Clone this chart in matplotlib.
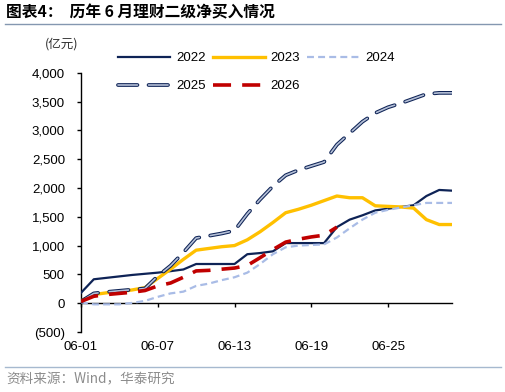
import matplotlib
matplotlib.use("Agg")
import matplotlib.pyplot as plt
from matplotlib.ticker import FuncFormatter, FixedLocator
from matplotlib.lines import Line2D

plt.rcParams['font.family'] = ['Liberation Sans', 'Noto Sans CJK SC', 'DejaVu Sans']
plt.rcParams['lines.scale_dashes'] = False

dates = ["06-01", "06-02", "06-03", "06-04", "06-05", "06-06", "06-07", "06-08", "06-09", "06-10",
         "06-11", "06-12", "06-13", "06-14", "06-15", "06-16", "06-17", "06-18", "06-19", "06-20",
         "06-21", "06-22", "06-23", "06-24", "06-25", "06-26", "06-27", "06-28", "06-29", "06-30"]

y2022 = [180, 415, 440, 465, 490, 510, 530, 556, 585, 680, 680, 680, 680, 850, 870, 900, 1043, 1043,
         1043, 1043, 1320, 1450, 1525, 1610, 1640, 1670, 1700, 1860, 1965, 1953]
y2023 = [40, 150, 180, 200, 230, 270, 430, 590, 760, 920, 950, 980, 1000, 1100, 1240, 1400, 1570, 1630,
         1700, 1780, 1860, 1830, 1830, 1690, 1680, 1670, 1650, 1450, 1365, 1365]
y2024 = [15, -20, -20, -20, 5, 40, 110, 170, 200, 300, 340, 400, 450, 530, 680, 850, 970, 1000,
         1010, 1020, 1140, 1300, 1450, 1570, 1620, 1660, 1700, 1740, 1740, 1740]
y2025 = [30, 170, 195, 215, 235, 255, 470, 650, 880, 1130, 1170, 1210, 1260, 1550, 1800, 2030, 2220, 2310,
         2380, 2450, 2750, 2950, 3150, 3300, 3400, 3470, 3550, 3630, 3650, 3650]
y2026 = [30, 120, 150, 170, 190, 220, 300, 350, 450, 560, 570, 590, 610, 655, 790, 930, 1060, 1110,
         1150, 1180, 1320]

tick_idx = [0, 6, 12, 18, 24]
yticks = [-500, 0, 500, 1000, 1500, 2000, 2500, 3000, 3500, 4000]

W, H = 506, 392
fig = plt.figure(figsize=(W / 100, H / 100), dpi=100)
ax = fig.add_axes([81 / W, 1 - 332 / H, (452 - 81) / W, (332 - 72.7) / H])

x = list(range(len(dates)))
navy = '#0E2356'
l22, = ax.plot(x, y2022, color=navy, lw=1.6, zorder=3)
l23, = ax.plot(x, y2023, color='#FFC000', lw=2.4, zorder=3)
l24, = ax.plot(x, y2024, color='#A9BCE6', lw=1.6, dashes=(5, 3), zorder=3)
l25o, = ax.plot(x, y2025, color=navy, lw=2.7, dashes=(14, 8), dash_capstyle='round', zorder=4)
l25i, = ax.plot(x, y2025, color='#B4BFD6', lw=1.2, dashes=(14, 8), dash_capstyle='round', zorder=5)
x26 = list(range(len(y2026)))
l26, = ax.plot(x26, y2026, color='#C00000', lw=2.6, dashes=(13, 8), zorder=6)

ax.set_xlim(0, len(dates) - 1)
ax.set_ylim(-500, 4000)
ax.yaxis.set_major_locator(FixedLocator(yticks))
ax.yaxis.set_major_formatter(FuncFormatter(lambda v, p: f"({abs(v):,.0f})" if v < 0 else f"{v:,.0f}"))
ax.set_xticks(tick_idx)
ax.set_xticklabels([dates[i] for i in tick_idx])

for s in ['top', 'right']:
    ax.spines[s].set_visible(False)
ax.spines['bottom'].set_position(('data', 0))
ax.spines['bottom'].set_linewidth(1.0)
ax.spines['left'].set_linewidth(1.0)
ax.tick_params(axis='y', direction='out', length=3, width=1, pad=8.5, labelsize=9.5)
ax.tick_params(axis='x', direction='out', length=3, width=1, pad=24.5, labelsize=9.5)

handles = [l22, (l25o, l25i), l23, l26, l24]
labels = ['2022', '2025', '2023', '2026', '2024']
ax.legend(handles, labels, ncol=3, loc='upper left', bbox_to_anchor=(118 / W, 1 - 52 / H),
          bbox_transform=fig.transFigure, frameon=False, fontsize=9.5, handlelength=3.94,
          handletextpad=0.45, columnspacing=0.55, labelspacing=1.2, borderpad=0, borderaxespad=0)

fig.text(62 / W, 1 - 44 / H, '(亿元)', ha='center', va='center', fontsize=9,
         family=['Noto Sans CJK SC', 'DejaVu Sans'], color='#333333')
fig.text(6 / W, 1 - 12 / H, '图表4：  历年 6 月理财二级净买入情况', ha='left', va='center',
         fontsize=11.3, fontweight='bold', family=['Noto Sans CJK SC', 'DejaVu Sans'])
fig.add_artist(Line2D([5 / W, 501 / W], [1 - 24 / H, 1 - 24 / H], color='#8497B0', lw=1.0,
                      transform=fig.transFigure))
fig.add_artist(Line2D([5 / W, 501 / W], [1 - 367 / H, 1 - 367 / H], color='#A6B9CF', lw=1.0,
                      transform=fig.transFigure))
fig.text(6 / W, 1 - 379 / H, '资料来源：Wind，华泰研究', ha='left', va='center', fontsize=9.8,
         family=['Noto Sans CJK SC', 'DejaVu Sans'], color='#8C8C8C')

fig.savefig('out.png', dpi=100)
